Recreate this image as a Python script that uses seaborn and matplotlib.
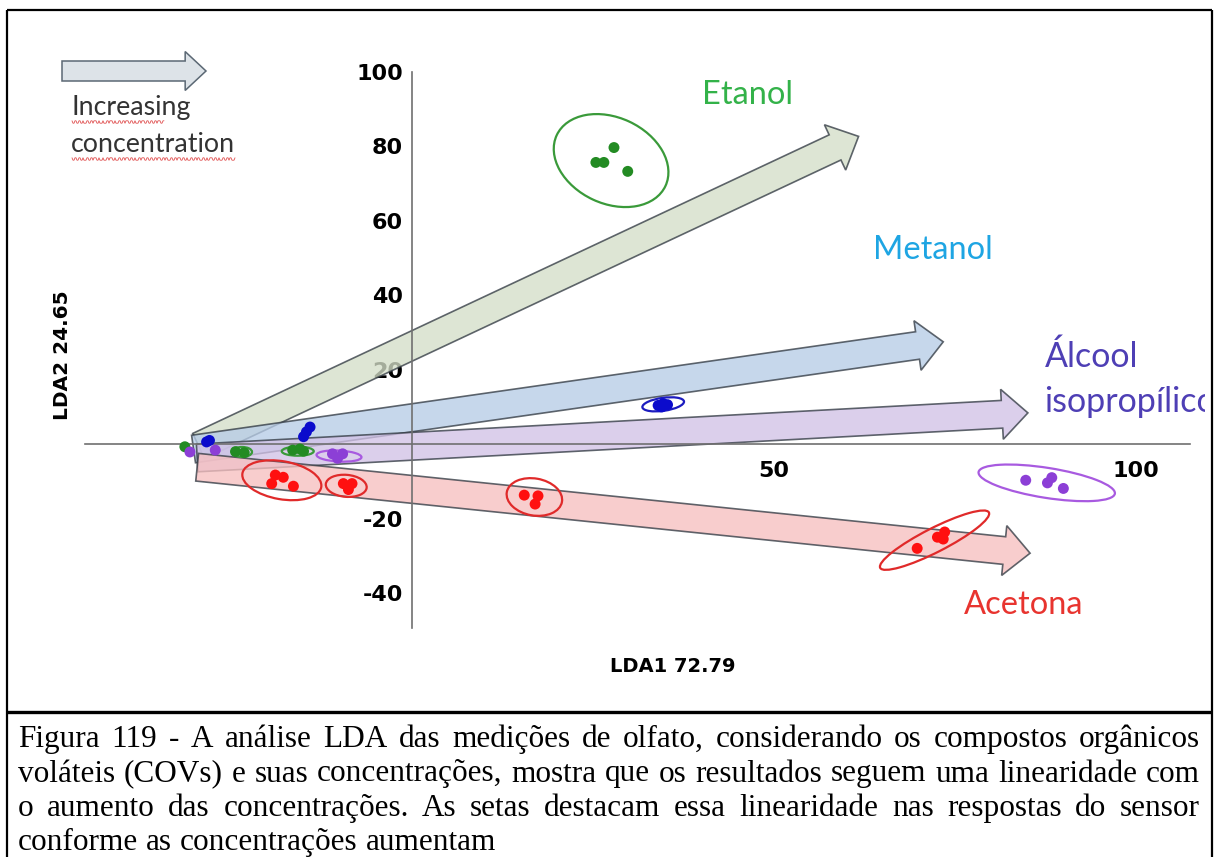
import numpy as np
import pandas as pd
import seaborn as sns
import matplotlib
matplotlib.use("Agg")
import matplotlib.pyplot as plt
from matplotlib.patches import FancyArrowPatch, Ellipse, ArrowStyle
from matplotlib.transforms import ScaledTranslation, Bbox
from matplotlib.lines import Line2D

# ---------------- data ----------------
compounds = ["Etanol", "Metanol", "Álcool isopropílico", "Acetona"]

etanol_x = [-31.4, -24.4, -23.2, -16.5, -15.5, -15.0, 25.4, 26.5, 27.9, 29.8]
etanol_y = [-0.7, -2.0, -2.3, -1.6, -1.3, -1.9, 75.7, 75.7, 79.7, 73.3]

metanol_x = [-28.4, -28.0, -15.0, -14.6, -14.1, 34.0, 34.7, 35.3, 34.5]
metanol_y = [0.6, 1.0, 2.0, 3.3, 4.6, 10.4, 10.9, 10.6, 10.0]

isoprop_x = [-30.7, -27.2, -11.0, -9.6, -10.3, 84.8, 87.8, 88.4, 90.0]
isoprop_y = [-2.1, -1.6, -2.6, -2.6, -3.8, -9.7, -10.4, -9.0, -11.9]

acetona_x = [-18.9, -17.8, -19.4, -16.4, -9.5, -8.3, -8.8, 15.5, 17.4, 17.0, 69.8, 72.6, 73.6, 73.4]
acetona_y = [-8.3, -8.9, -10.6, -11.3, -10.6, -10.6, -12.2, -13.7, -13.9, -16.1, -28.0, -25.0, -23.6, -25.5]

# confidence ellipses: compound, centre (LDA1, LDA2)
ell_compound = ["Etanol", "Etanol", "Etanol", "Metanol", "Álcool isopropílico",
                "Álcool isopropílico", "Acetona", "Acetona", "Acetona", "Acetona"]
ell_cx = [27.5, -23.5, -15.8, 34.7, -10.1, 87.7, -18.0, -9.1, 16.9, 72.2]
ell_cy = [76.2, -2.1, -1.9, 10.7, -3.2, -10.4, -9.7, -11.2, -14.2, -25.8]

# trend arrows (increasing concentration): tail -> tip
arrow_compound = ["Etanol", "Metanol", "Álcool isopropílico", "Acetona"]
arrow_x0 = [-29.5, -30.2, -29.7, -29.7]
arrow_y0 = [-0.5, -1.3, -3.7, -6.2]
arrow_x1 = [61.7, 73.4, 85.1, 85.4]
arrow_y1 = [82.7, 27.5, 8.4, -29.3]

yticks = [-40, -20, 20, 40, 60, 80, 100]
xticks = [50, 100]
xlabel = "LDA1 72.79"
ylabel = "LDA2 24.65"

caption_lines = [
    "Figura 119 - A análise LDA das medições de olfato, considerando os compostos orgânicos",
    "voláteis (COVs) e suas concentrações, mostra que os resultados seguem uma linearidade com",
    "o aumento das concentrações. As setas destacam essa linearidade nas respostas do sensor",
    "conforme as concentrações aumentam",
]

# ---------------- styles ----------------
point_colors = {"Etanol": "#238b23", "Metanol": "#0b0bcc",
                "Álcool isopropílico": "#8c3fd6", "Acetona": "#ff1010"}
ell_colors = {"Etanol": "#3a9a3a", "Metanol": "#1c1cbf",
              "Álcool isopropílico": "#a85ae0", "Acetona": "#e02a2a"}
arrow_fill = {"Etanol": "#d4dec8", "Metanol": "#b7cce6",
              "Álcool isopropílico": "#d2c2e6", "Acetona": "#f7c0c0"}
# ellipse semi-axes (pixels) and tilt (deg)
ell_a = [60, 10, 16, 21, 22.5, 69, 40, 20.5, 28, 61]
ell_b = [43, 5, 4.5, 6.5, 5.5, 15, 19, 11, 18.5, 12]
ell_ang = [-25, 0, 0, 8, -3, -9, -10, -5, -10, 27]

sns.set_style("white")
plt.rcParams["font.family"] = ["DejaVu Sans"]

W, H = 1218, 857
fig = plt.figure(figsize=(W / 100, H / 100), dpi=100)
fig.patch.set_facecolor("white")

axl, axr, axt, axb = 85, 1190, 72, 628
ax = fig.add_axes([axl / W, 1 - axb / H, (axr - axl) / W, (axb - axt) / H])
ax.set_facecolor("none")
ax.set_xlim(-45.2, 107.5)
ax.set_ylim(-49.4, 100)

# arrows
for c, x0, y0, x1, y1 in zip(arrow_compound, arrow_x0, arrow_y0, arrow_x1, arrow_y1):
    st = ArrowStyle.Simple(head_length=18.7, head_width=36, tail_width=20)
    p = FancyArrowPatch(posA=(x0, y0), posB=(x1, y1), arrowstyle=st, mutation_scale=1,
                        shrinkA=0, shrinkB=0, fc=arrow_fill[c], ec="#333b44", lw=1.2,
                        alpha=0.78, zorder=2, joinstyle="miter")
    ax.add_patch(p)

# ellipses
for c, cx, cy, a, b, ang in zip(ell_compound, ell_cx, ell_cy, ell_a, ell_b, ell_ang):
    tr = fig.dpi_scale_trans + ScaledTranslation(cx, cy, ax.transData)
    e = Ellipse((0, 0), 2 * a / 100, 2 * b / 100, angle=ang, transform=tr,
                fill=False, ec=ell_colors[c], lw=1.6, zorder=4)
    ax.add_patch(e)

# points
df = pd.DataFrame({
    "LDA1": etanol_x + metanol_x + isoprop_x + acetona_x,
    "LDA2": etanol_y + metanol_y + isoprop_y + acetona_y,
    "Composto": ["Etanol"] * len(etanol_x) + ["Metanol"] * len(metanol_x)
    + ["Álcool isopropílico"] * len(isoprop_x) + ["Acetona"] * len(acetona_x),
})
sns.scatterplot(data=df, x="LDA1", y="LDA2", hue="Composto", palette=point_colors,
                s=62, linewidth=0, legend=False, ax=ax, zorder=5)

# axes through origin
for s in ["top", "right"]:
    ax.spines[s].set_visible(False)
ax.spines["left"].set_position(("data", 0))
ax.spines["bottom"].set_position(("data", 0))
for s in ["left", "bottom"]:
    ax.spines[s].set_color("#707070")
    ax.spines[s].set_linewidth(1.2)
    ax.spines[s].set_zorder(3)
ax.set_yticks(yticks, labels=[str(v) for v in yticks])
ax.set_xticks(xticks, labels=[str(v) for v in xticks])
ax.tick_params(axis="y", direction="out", length=3.6, width=1, color="#707070", pad=3,
               labelsize=16)
ax.tick_params(axis="x", direction="out", length=3, width=1, color="#707070", pad=9,
               labelsize=16)
for t in ax.get_xticklabels() + ax.get_yticklabels():
    t.set_fontweight("bold")
    t.set_color("#000000")
ax.set_xlabel(xlabel, fontsize=14, fontweight="bold", color="#000000")
ax.set_ylabel(ylabel, fontsize=14.5, fontweight="bold", color="#000000")
ax.xaxis.set_label_coords((673 - axl) / (axr - axl), (axb - 667) / (axb - axt))
ax.yaxis.set_label_coords((62 - axl) / (axr - axl), (axb - 355) / (axb - axt))
ax.xaxis.label.set_va("center")
ax.yaxis.label.set_va("center")

# compound labels
lab_font = ["Lato", "DejaVu Sans"]
ax.text(46.4, 93.7, "Etanol", color="#33b249", fontsize=23.5, family=lab_font,
        ha="center", va="center")
ax.text(72.0, 52.1, "Metanol", color="#1ea5e3", fontsize=23.5, family=lab_font,
        ha="center", va="center")
ax.text(87.4, 23.4, "Álcool", color="#4e3fb5", fontsize=24.5, family=lab_font,
        ha="left", va="center")
t_iso = ax.text(87.4, 11.3, "isopropílico", color="#4e3fb5", fontsize=24.5, family=lab_font,
                ha="left", va="center")
t_iso.set_clip_on(True)
t_iso.set_clip_box(Bbox([[0, 0], [1205, H]]))
ax.text(84.5, -43.2, "Acetona", color="#e8342f", fontsize=23.5, family=lab_font,
        ha="center", va="center")

# legend arrow + text (top-left)
def fxy(px, py):
    return (px / W, 1 - py / H)

leg = FancyArrowPatch(posA=fxy(62, 71), posB=fxy(206, 71),
                      arrowstyle=ArrowStyle.Simple(head_length=15, head_width=28, tail_width=14.4),
                      mutation_scale=1, shrinkA=0, shrinkB=0, fc="#dde3e8", ec="#5b6874",
                      lw=1.1, transform=fig.transFigure, joinstyle="miter")
fig.add_artist(leg)
for txt, py, x2 in [("Increasing", 108, 165), ("concentration", 145, 236)]:
    fig.text(*fxy(71, py), txt, fontsize=19.3, family=lab_font, color="#333333",
             ha="left", va="center")
    xs = np.arange(72, x2, 1.0)
    ys = py + 14 + 1.2 * np.sign(np.sin(xs * np.pi / 2.0))
    fig.add_artist(Line2D(xs / W, 1 - ys / H, color="#e05050", lw=0.6,
                          transform=fig.transFigure))

# frame lines
def fline(xs, ys, lw):
    fig.add_artist(Line2D(np.array(xs) / W, 1 - np.array(ys) / H, color="black", lw=lw,
                          transform=fig.transFigure, solid_capstyle="butt"))

fline([7, 1212], [10, 10], 1.6)
fline([7, 7], [10, H], 1.6)
fline([1212, 1212], [10, H], 1.6)
fline([7, 1212], [712, 712], 2.4)

# caption (justified)
fig.canvas.draw()
renderer = fig.canvas.get_renderer()
cap_font = ["Liberation Serif", "DejaVu Serif"]

def measure(s, fs):
    t = fig.text(0, 0, s, fontsize=fs, family=cap_font)
    w = t.get_window_extent(renderer).width
    t.remove()
    return w

fs0 = 20
w_last = measure(caption_lines[-1], fs0)
cap_fs = fs0 * 547 / w_last
max_nat = max(measure(l, cap_fs) for l in caption_lines[:-1])
if max_nat > 1182:
    cap_fs *= 1182 / max_nat * 0.99
space_w = measure("a a", cap_fs) - measure("aa", cap_fs)
left, right = 18, 1200
baselines = [747, 781.5, 816, 850]
for i, (line, yb) in enumerate(zip(caption_lines, baselines)):
    words = line.split()
    widths = [measure(w, cap_fs) for w in words]
    if i < len(caption_lines) - 1:
        gap = (right - left - sum(widths)) / (len(words) - 1)
    else:
        gap = space_w
    x = left
    for w, ww in zip(words, widths):
        fig.text(x / W, 1 - yb / H, w, fontsize=cap_fs, family=cap_font, color="black",
                 ha="left", va="baseline")
        x += ww + gap

fig.savefig("out.png", dpi=100, facecolor="white")
